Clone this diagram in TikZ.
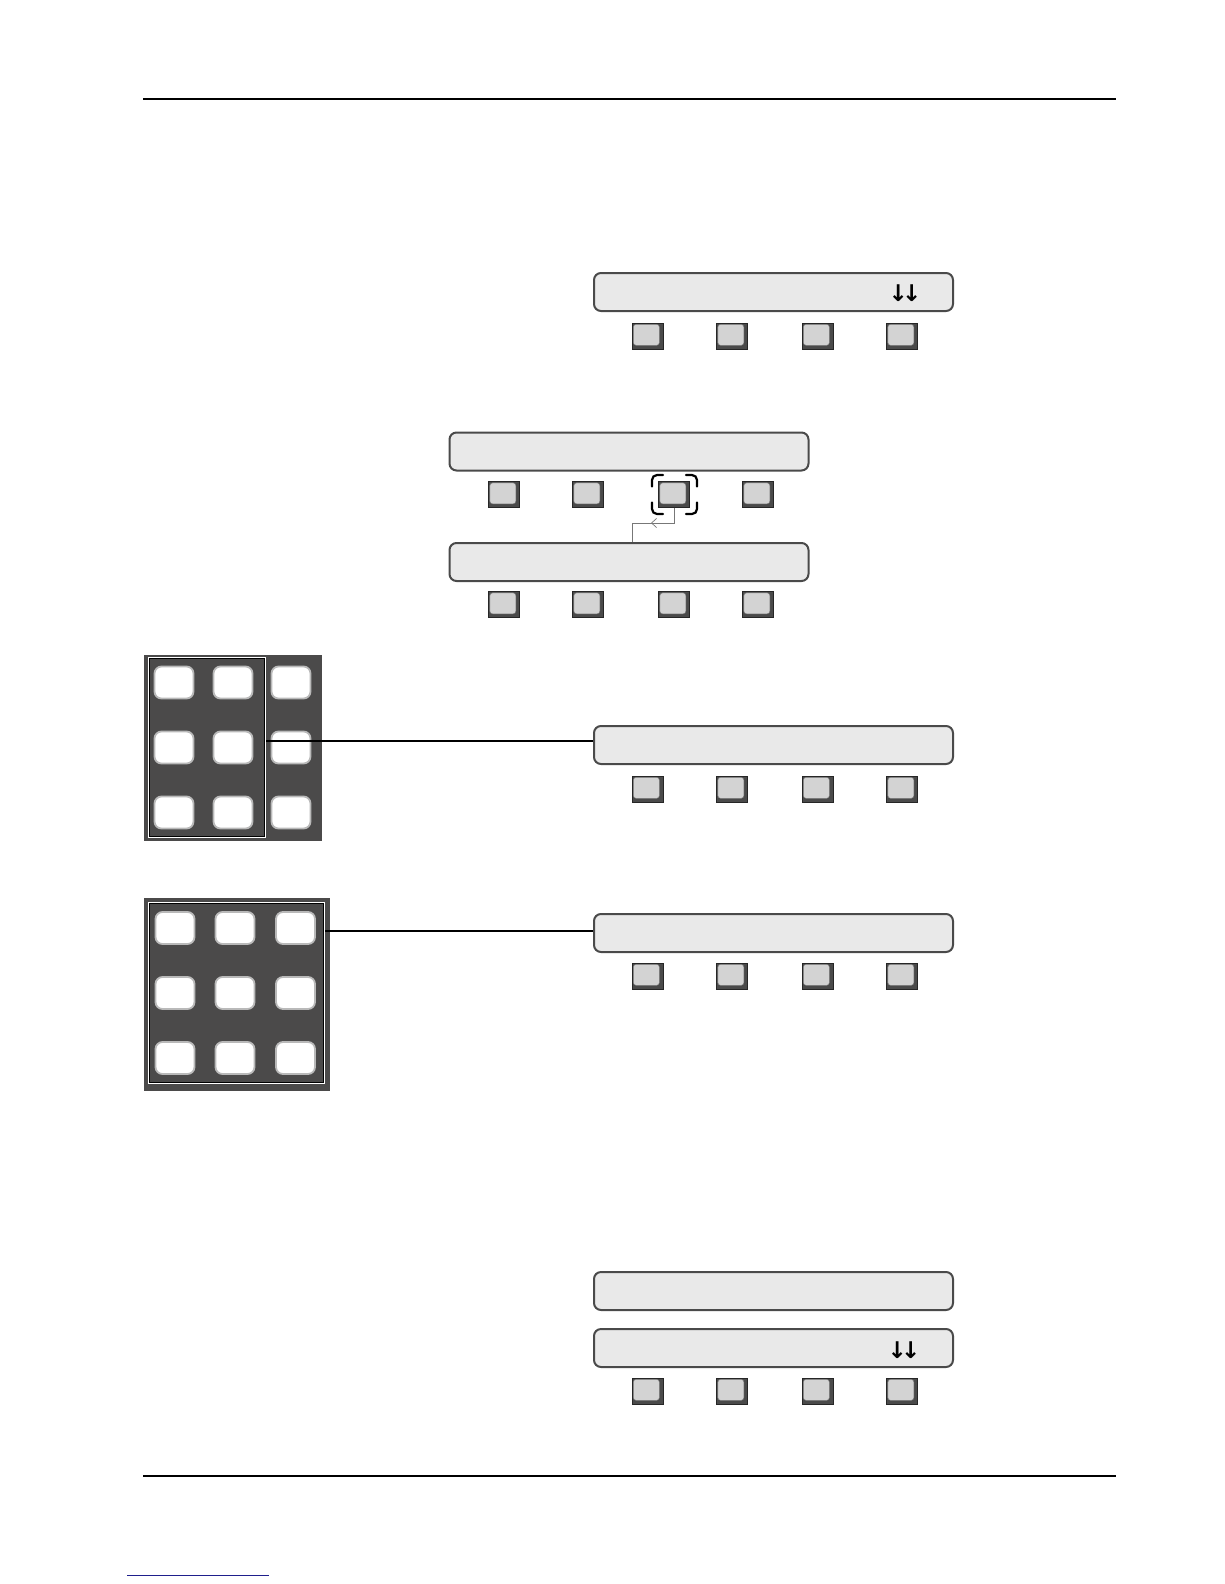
\documentclass[tikz,border=0pt]{standalone}
\usepackage{fontspec}
\newfontfamily\djv{DejaVu Sans}
\usetikzlibrary{arrows.meta}
\definecolor{dispfill}{HTML}{E9E9E9}
\definecolor{dispedge}{HTML}{4A4A4A}
\definecolor{btndark}{HTML}{4A4A4A}
\definecolor{btnlight}{HTML}{D3D3D3}
\definecolor{btnedge}{HTML}{7A7A7A}
\definecolor{panel}{HTML}{4B4A4A}
\definecolor{linkblue}{HTML}{1F1F8C}
\definecolor{conngray}{HTML}{777777}
\tikzset{
  disp/.style={rectangle, rounded corners=7pt, draw=dispedge, line width=2pt, fill=dispfill, minimum width=359pt, minimum height=38pt, inner sep=0pt},
  btn/.style={rectangle, draw=black!85, line width=0.7pt, fill=btndark, minimum width=31pt, minimum height=26pt, inner sep=0pt,
    path picture={\filldraw[btnlight, draw=btnedge, line width=0.4pt, rounded corners=3pt]
      ([shift={(1.3pt,-1.3pt)}]path picture bounding box.north west) rectangle ([shift={(-3.6pt,3.6pt)}]path picture bounding box.south east);}},
  keyw/.style={rectangle, rounded corners=7pt, fill=white, draw=gray!55, line width=1.8pt, minimum width=39pt, minimum height=32pt, inner sep=0pt},
  panelbox/.style={rectangle, fill=panel, inner sep=0pt},
  outline/.style={rectangle, draw=white, line width=1.2pt, inner sep=0pt},
  rule/.style={line width=1.1pt, black},
  link/.style={line width=1.1pt, black},
  conn/.style={line width=0.7pt, conngray},
  bracket/.style={line width=2.2pt, black, rounded corners=5pt, line cap=round},
  arrowtxt/.style={inner sep=0pt, font=\djv\bfseries\fontsize{23}{26}\selectfont}
}
\begin{document}
\begin{tikzpicture}[x=1pt, y=-1pt]
\useasboundingbox[fill=white] (0,0) rectangle (1224,1584);

% page rules
\coordinate (r1a) at (143,99); \coordinate (r1b) at (1116,99);
\draw[rule] (r1a) -- (r1b);
\coordinate (r2a) at (143,1476); \coordinate (r2b) at (1116,1476);
\draw[rule] (r2a) -- (r2b);
\coordinate (la) at (127,1575); \coordinate (lb) at (269,1575);
\draw[linkblue, line width=1pt] (la) -- (lb);

% display 1
\node[disp] (d1) at (773.5,292) {};
\node[arrowtxt] (a1) at (905,293) {↓\kern-6pt↓};
\foreach \x [count=\i] in {647.5,732,817.5,902} \node[btn] (b1\i) at (\x,336) {};

% display 2 and 3
\node[disp] (d2) at (629,451.5) {};
\foreach \x [count=\i] in {504,588,674,758} \node[btn] (b2\i) at (\x,494.5) {};
\node[disp] (d3) at (629,562) {};
\foreach \x [count=\i] in {504,588,674,758} \node[btn] (b3\i) at (\x,604.5) {};
% corner brackets around b23
\coordinate (cb) at (674,494.5);
\draw[bracket] ([shift={(-22pt,8pt)}]cb) |- ([shift={(-11pt,19.5pt)}]cb);
\draw[bracket] ([shift={(12pt,19.5pt)}]cb) -| ([shift={(23pt,8pt)}]cb);
\draw[bracket] ([shift={(-22pt,-8pt)}]cb) |- ([shift={(-11pt,-19.5pt)}]cb);
\draw[bracket] ([shift={(12pt,-19.5pt)}]cb) -| ([shift={(23pt,-8pt)}]cb);
% connector from b23 to d3
\coordinate (cbend) at (674,523);
\coordinate (ctip) at (651,523);
\coordinate (cleft) at (632,523);
\draw[conn] (b23.south) -- (cbend) -- (cleft) -- (cleft |- d3.north);
\draw[conn, -{Straight Barb[length=5pt, width=9pt]}] (cbend) -- (ctip);

% keypad 1
\node[panelbox, minimum width=178pt, minimum height=186pt] (p1) at (233,748) {};
\node[outline, minimum width=116pt, minimum height=179pt] (kp1) at (207,747.5) {};
\draw[black, line width=0.8pt] ([shift={(1.3pt,-1.3pt)}]kp1.north west) rectangle ([shift={(-1.3pt,1.3pt)}]kp1.south east);
\foreach \y [count=\r] in {682.5,747.5,812.5}
  \foreach \x [count=\c] in {174,233,291}
    \node[keyw] (k1\r\c) at (\x,\y) {};
\node[disp] (d4) at (773.5,745) {};
\foreach \x [count=\i] in {647.5,732,817.5,902} \node[btn] (b4\i) at (\x,789) {};
\draw[link] ([yshift=4pt]d4.west) -- ([yshift=4pt]d4.west -| kp1.east);

% keypad 2
\node[panelbox, minimum width=186pt, minimum height=193pt] (p2) at (237,994.5) {};
\node[outline, minimum width=175pt, minimum height=180pt] (kp2) at (236.5,993) {};
\draw[black, line width=0.8pt] ([shift={(1.3pt,-1.3pt)}]kp2.north west) rectangle ([shift={(-1.3pt,1.3pt)}]kp2.south east);
\foreach \y [count=\r] in {928,993,1058}
  \foreach \x [count=\c] in {175,235,295.5}
    \node[keyw] (k2\r\c) at (\x,\y) {};
\node[disp] (d5) at (773.5,933) {};
\foreach \x [count=\i] in {647.5,732,817.5,902} \node[btn] (b5\i) at (\x,976) {};
\draw[link] ([yshift=2pt]d5.west) -- ([yshift=2pt]d5.west -| kp2.east);

% displays 6 and 7
\node[disp] (d6) at (773.5,1291) {};
\node[disp] (d7) at (773.5,1348) {};
\node[arrowtxt] (a7) at (904,1350) {↓\kern-6pt↓};
\foreach \x [count=\i] in {647.5,732,817.5,902} \node[btn] (b7\i) at (\x,1391) {};
\end{tikzpicture}
\end{document}
